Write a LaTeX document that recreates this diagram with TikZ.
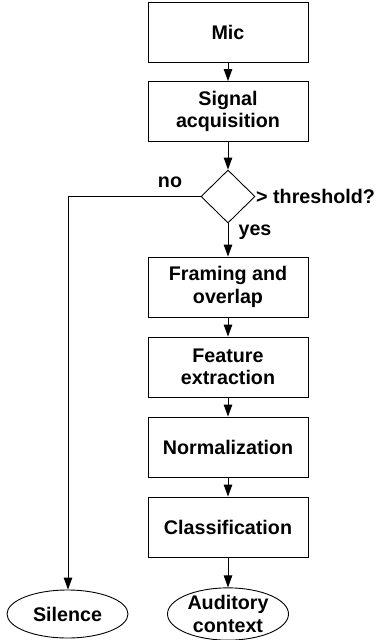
\documentclass[tikz,border=0pt]{standalone}
\usepackage{fontspec}
\setmainfont{Liberation Sans}
\usetikzlibrary{shapes.geometric,arrows.meta}
\begin{document}
\begin{tikzpicture}[x=1pt,y=-1pt,
  every node/.style={font=\fontsize{19.7}{22.5}\selectfont\bfseries},
  procbox/.style={draw,line width=0.9pt,minimum width=160pt,minimum height=60pt,inner sep=0pt,align=center},
  decbox/.style={draw,diamond,line width=0.9pt,minimum width=54pt,minimum height=53pt,inner sep=0pt},
  termbox/.style={draw,ellipse,line width=0.9pt,minimum width=121pt,minimum height=48pt,inner sep=0pt,align=center},
  flow/.style={line width=0.9pt,-{Triangle[length=12pt,width=8.5pt]}},
  lbl/.style={inner sep=0pt}]
\useasboundingbox (0,0) rectangle (381,640);
\node[procbox] (mic) at (228,32) {Mic};
\node[procbox] (sig) at (228,111.5) {Signal\\acquisition};
\node[decbox] (dec) at (228,196.5) {};
\node[procbox] (frm) at (228,287) {Framing and\\overlap};
\node[procbox] (fea) at (228,367) {Feature\\extraction};
\node[procbox] (nrm) at (228,447) {Normalization};
\node[procbox] (cls) at (228,527) {Classification};
\node[termbox] (sil) at (67.5,614) {Silence};
\node[termbox] (aud) at (228,614) {Auditory\\context};
\coordinate (corner) at (68,196.5);
\node[lbl] (nolbl) at (170,182) {no};
\node[lbl,anchor=west] (thr) at (256,196.5) {> threshold?};
\node[lbl] (yeslbl) at (255,232) {yes};
\draw[flow] (mic) -- (sig);
\draw[flow] (sig) -- (dec);
\draw[flow] (dec) -- (frm);
\draw[flow] (frm) -- (fea);
\draw[flow] (fea) -- (nrm);
\draw[flow] (nrm) -- (cls);
\draw[flow] (cls) -- (aud);
\draw[flow] (dec.west) -- (corner) -- (corner |- sil.north);
\end{tikzpicture}
\end{document}
